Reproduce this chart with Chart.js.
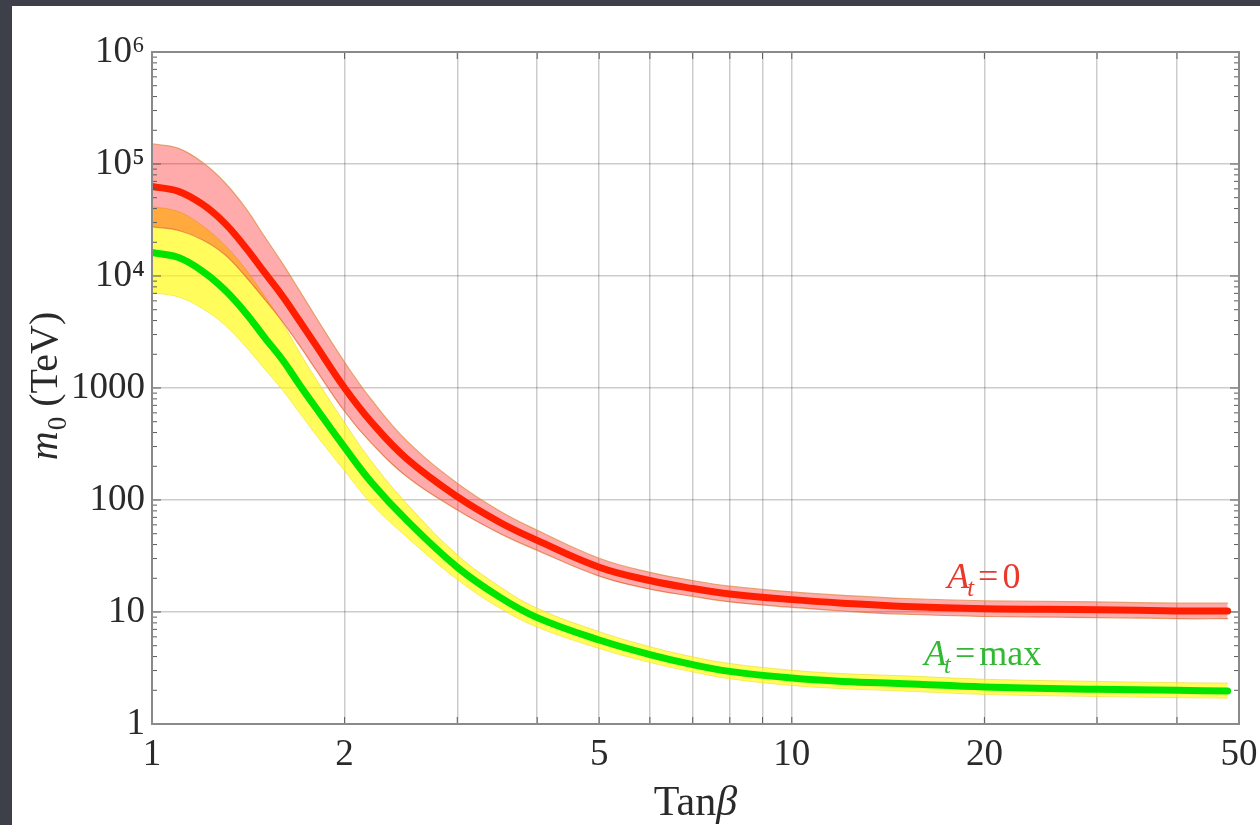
<!DOCTYPE html>
<html><head><meta charset="utf-8">
<script src="https://cdn.jsdelivr.net/npm/chart.js@4.4.1/dist/chart.umd.min.js"></script>
<style>
html,body{margin:0;padding:0;background:#3d4049;width:1260px;height:825px;overflow:hidden}
#panel{position:absolute;left:12px;top:6px;width:1248px;height:819px;background:#fff}
canvas{display:block}
</style></head><body>
<div id="panel"><canvas id="c" width="1248" height="819"></canvas></div>
<script>
// ---- data (m0 in TeV vs tan beta) ----
const tanBeta     = [1, 1.1, 1.2, 1.3, 1.4, 1.5, 1.6, 1.7, 1.8, 2, 2.2, 2.5, 3, 3.5, 4, 5, 6, 7, 8, 10, 12, 15, 20, 30, 40, 48];
const redCenter   = [63000, 57000, 43500, 29500, 18000, 10700, 6600, 3980, 2450, 1000, 500, 234, 107, 63, 43.6, 25.1, 19.1, 16.2, 14.5, 12.9, 12.0, 11.2, 10.7, 10.5, 10.2, 10.2];
const redUpper    = [151000, 138000, 103000, 68000, 40500, 22400, 12900, 7410, 4370, 1700, 794, 339, 141, 79.4, 53.7, 30.2, 22.6, 19.1, 17.0, 15.1, 14.1, 13.2, 12.6, 12.3, 12.0, 12.0];
const redLower    = [27500, 25500, 21000, 15500, 9900, 6170, 3890, 2400, 1480, 617, 324, 162, 81.3, 50.1, 35.5, 20.9, 16.0, 13.8, 12.3, 11.0, 10.2, 9.55, 9.12, 8.91, 8.71, 8.71];
const greenCenter = [16200, 14600, 11000, 7500, 4700, 2820, 1780, 1070, 676, 295, 145, 66.1, 25.1, 13.5, 8.91, 5.62, 4.17, 3.39, 2.95, 2.57, 2.40, 2.29, 2.14, 2.04, 2.00, 1.97];
const yellowUpper = [41700, 37500, 28000, 18800, 11500, 6610, 3800, 2090, 1230, 490, 224, 93.3, 32.4, 16.8, 10.8, 6.68, 4.90, 3.98, 3.47, 3.02, 2.82, 2.69, 2.51, 2.40, 2.34, 2.32];
const yellowLower = [7080, 6500, 5100, 3650, 2350, 1480, 955, 603, 389, 182, 93.3, 46.8, 19.5, 10.8, 7.33, 4.73, 3.55, 2.92, 2.54, 2.21, 2.07, 1.97, 1.84, 1.76, 1.72, 1.70];

const xTickValues = [1, 2, 3, 4, 5, 6, 7, 8, 9, 10, 20, 30, 40, 50];
const xTickLabels = ['1', '2', '', '', '5', '', '', '', '', '10', '20', '', '', '50'];
const yTickValues = [1, 10, 100, 1000, 1e4, 1e5, 1e6];
const yTickLabels = ['1', '10', '100', '1000', '10⁴', '10⁵', '10⁶'];

const labelRed = {x: 17.5, y: 16.4};
const labelGreen = {x: 16.1, y: 3.36};

const pts = arr => arr.map((v, i) => ({x: tanBeta[i], y: v}));
const SERIF = "'Liberation Serif', 'DejaVu Serif', serif";

function richText(ctx, segs, x, y, size, color) {
  let cx = x;
  ctx.fillStyle = color;
  ctx.textBaseline = 'alphabetic';
  ctx.textAlign = 'left';
  for (const s of segs) {
    const fs = s.sub ? size * 0.68 : size;
    ctx.font = (s.italic ? 'italic ' : '') + fs + 'px ' + SERIF;
    ctx.fillText(s.t, cx, y + (s.sub ? size * 0.22 : 0));
    cx += ctx.measureText(s.t).width + (s.gap || 0);
  }
  return cx - x;
}
function richWidth(ctx, segs, size) {
  let w = 0;
  for (const s of segs) {
    const fs = s.sub ? size * 0.68 : size;
    ctx.font = (s.italic ? 'italic ' : '') + fs + 'px ' + SERIF;
    w += ctx.measureText(s.t).width + (s.gap || 0);
  }
  return w;
}

const deco = {
  id: 'deco',
  afterDatasetsDraw(chart) {
    const {ctx, chartArea: a, scales: {x, y}} = chart;
    ctx.save();
    ctx.strokeStyle = '#5a5a5a';
    ctx.lineWidth = 1;
    const line = (x1, y1, x2, y2) => { ctx.beginPath(); ctx.moveTo(x1, y1); ctx.lineTo(x2, y2); ctx.stroke(); };
    for (let k = 0; k < 6; k++) {
      for (let m = 2; m <= 9; m++) {
        const py = y.getPixelForValue(m * Math.pow(10, k));
        line(a.left, py, a.left + 5, py);
        line(a.right - 5, py, a.right, py);
      }
    }
    for (const v of yTickValues) {
      const py = y.getPixelForValue(v);
      line(a.left, py, a.left + 9, py);
      line(a.right - 9, py, a.right, py);
    }
    for (const v of xTickValues) {
      const px = x.getPixelForValue(v);
      line(px, a.bottom, px, a.bottom - 7);
      line(px, a.top, px, a.top + 7);
    }
    ctx.strokeStyle = '#8a8a8a';
    ctx.lineWidth = 2;
    ctx.strokeRect(a.left, a.top, a.right - a.left, a.bottom - a.top);
    ctx.restore();
  },
  afterDraw(chart) {
    const {ctx, chartArea: a, scales: {x, y}} = chart;
    ctx.save();
    const xs = [{t: 'Tan'}, {t: 'β', italic: true}];
    const xw = richWidth(ctx, xs, 42);
    richText(ctx, xs, (a.left + a.right) / 2 - xw / 2, 809, 42, '#2a2a2a');
    const ys = [{t: 'm', italic: true, gap: 1}, {t: '0', sub: true}, {t: ' (TeV)'}];
    const yw = richWidth(ctx, ys, 40);
    ctx.translate(45, (a.top + a.bottom) / 2 - 2);
    ctx.rotate(-Math.PI / 2);
    richText(ctx, ys, -yw / 2, 0, 40, '#2a2a2a');
    ctx.restore();
    ctx.save();
    richText(ctx, [{t: 'A', italic: true, gap: -2}, {t: 't', italic: true, sub: true, gap: 4}, {t: '=', gap: 4}, {t: '0'}],
      x.getPixelForValue(labelRed.x), y.getPixelForValue(labelRed.y), 36, '#e8392c');
    richText(ctx, [{t: 'A', italic: true, gap: -2}, {t: 't', italic: true, sub: true, gap: 4}, {t: '=', gap: 4}, {t: 'max'}],
      x.getPixelForValue(labelGreen.x), y.getPixelForValue(labelGreen.y), 36, '#33b833');
    ctx.restore();
  }
};

const common = {pointRadius: 0, tension: 0.4, borderCapStyle: 'round'};

new Chart(document.getElementById('c'), {
  type: 'line',
  data: {
    datasets: [
      {label: 'At=0', data: pts(redCenter), borderColor: '#ff1e00', borderWidth: 7, fill: false, order: 0, ...common},
      {label: 'At=max', data: pts(greenCenter), borderColor: '#00e400', borderWidth: 7, fill: false, order: 1, ...common},
      {label: 'At=0 upper', data: pts(redUpper), borderColor: 'rgba(220,140,70,0.75)', borderWidth: 1.2,
        backgroundColor: 'rgba(255,0,0,0.33)', fill: 3, order: 2, ...common},
      {label: 'At=0 lower', data: pts(redLower), borderColor: 'rgba(220,140,70,0.75)', borderWidth: 1.2, fill: false, order: 3, ...common},
      {label: 'At=max upper', data: pts(yellowUpper), borderColor: 'rgba(235,215,40,0.6)', borderWidth: 1,
        backgroundColor: 'rgba(255,250,0,0.64)', fill: 5, order: 4, ...common},
      {label: 'At=max lower', data: pts(yellowLower), borderColor: 'rgba(235,215,40,0.6)', borderWidth: 1, fill: false, order: 5, ...common}
    ]
  },
  options: {
    responsive: false,
    animation: false,
    devicePixelRatio: 1,
    layout: {padding: {left: 0, right: 21, top: 46, bottom: 0}},
    plugins: {legend: {display: false}, tooltip: {enabled: false}},
    scales: {
      x: {
        type: 'logarithmic', min: 1, max: 50,
        afterBuildTicks: s => { s.ticks = xTickValues.map(v => ({value: v})); },
        afterFit: s => { s.height = 101; s.paddingLeft = 0; s.paddingRight = 0; },
        grid: {color: 'rgba(0,0,0,0.2)', lineWidth: 1.5, drawTicks: false},
        border: {display: false},
        ticks: {
          autoSkip: false, maxRotation: 0, padding: 9, color: '#2a2a2a',
          font: {family: SERIF, size: 37},
          callback: (v, i) => xTickLabels[i]
        }
      },
      y: {
        type: 'logarithmic', min: 1, max: 1e6,
        afterBuildTicks: s => { s.ticks = yTickValues.map(v => ({value: v})); },
        afterFit: s => { s.width = 140; s.paddingTop = 0; s.paddingBottom = 0; },
        grid: {color: 'rgba(0,0,0,0.2)', lineWidth: 1.5, drawTicks: false},
        border: {display: false},
        ticks: {
          autoSkip: false, padding: 7, color: '#2a2a2a',
          font: {family: SERIF, size: 37},
          callback: (v, i) => yTickLabels[i]
        }
      }
    }
  },
  plugins: [deco]
});
</script>
</body></html>
